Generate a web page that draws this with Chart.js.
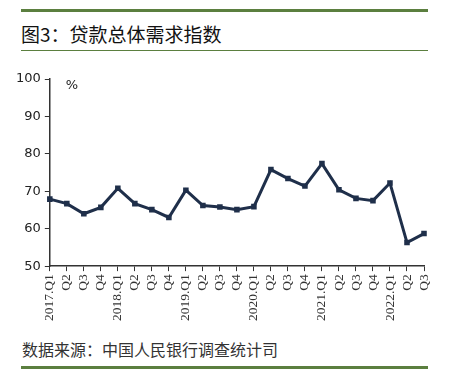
<!DOCTYPE html>
<html>
<head>
  <meta charset="utf-8" />
  <title>贷款总体需求指数</title>
  <script src="https://cdn.jsdelivr.net/npm/chart.js"></script>
  <style>
    html, body { margin: 0; padding: 0; background: #fff; }
    body { width: 449px; height: 372px; position: relative; overflow: hidden; font-family: "Noto Sans CJK SC", sans-serif; }
    .rule-top { position: absolute; left: 21px; top: 9px; width: 407px; height: 3px; background: #5b7f3f; }
    .title { position: absolute; left: 21px; top: 21px; font-size: 19px; color: #111; line-height: 26px; }
    .rule-thin { position: absolute; left: 21px; top: 50px; width: 407px; height: 1px; background: #5b7f3f; }
    .source { position: absolute; left: 22px; top: 338px; font-size: 16px; color: #333; line-height: 22px; }
    .rule-bottom { position: absolute; left: 21px; top: 366px; width: 407px; height: 3px; background: #5b7f3f; }
    #wrap { position: absolute; left: 0; top: 60px; width: 449px; height: 264px; }
  </style>
</head>
<body>
  <div class="rule-top"></div>
  <div class="title">图3：贷款总体需求指数</div>
  <div class="rule-thin"></div>
  <div id="wrap"><canvas id="chart"></canvas></div>
  <div class="source">数据来源：中国人民银行调查统计司</div>
  <div class="rule-bottom"></div>
<script>
const quarters = [
  '2017.Q1', 'Q2', 'Q3', 'Q4',
  '2018.Q1', 'Q2', 'Q3', 'Q4',
  '2019.Q1', 'Q2', 'Q3', 'Q4',
  '2020.Q1', 'Q2', 'Q3', 'Q4',
  '2021.Q1', 'Q2', 'Q3', 'Q4',
  '2022.Q1', 'Q2', 'Q3'
];
const demandIndex = [
  67.9, 66.7, 64.0, 65.7,
  70.8, 66.7, 65.1, 63.0,
  70.3, 66.2, 65.8, 65.1,
  65.9, 75.8, 73.4, 71.4,
  77.4, 70.4, 68.1, 67.5,
  72.2, 56.3, 58.7
];
const yTicks = [50, 60, 70, 80, 90, 100];

const unitLabel = {
  id: 'unitLabel',
  afterDraw(chart) {
    const ctx = chart.ctx;
    const area = chart.chartArea;
    ctx.save();
    ctx.font = '13px "DejaVu Sans", sans-serif';
    ctx.fillStyle = '#222';
    ctx.textBaseline = 'middle';
    ctx.fillText('%', area.left + 16, area.top + 7);
    ctx.restore();
  }
};

new Chart(document.getElementById('chart'), {
  type: 'line',
  data: {
    labels: quarters,
    datasets: [{
      data: demandIndex,
      borderColor: '#1f2f4a',
      backgroundColor: '#1f2f4a',
      borderWidth: 3,
      pointStyle: 'rect',
      pointRadius: 1.8,
      tension: 0
    }]
  },
  options: {
    responsive: true,
    maintainAspectRatio: false,
    animation: false,
    layout: { padding: { left: 12, right: 25, top: 19, bottom: 0 } },
    plugins: { legend: { display: false }, tooltip: { enabled: false } },
    scales: {
      x: {
        offset: false,
        grid: { display: true, drawOnChartArea: false, drawTicks: true, tickLength: 5, tickColor: '#333', color: '#333' },
        border: { display: true, color: '#333', width: 1.5 },
        ticks: {
          autoSkip: false, maxRotation: 90, minRotation: 90,
          color: '#333', padding: 3,
          font: { family: '"Liberation Serif", "DejaVu Serif", serif', size: 13.5 }
        }
      },
      y: {
        min: 50, max: 100,
        afterBuildTicks(axis) { axis.ticks = yTicks.map(v => ({ value: v })); },
        grid: { display: true, drawOnChartArea: false, drawTicks: true, tickLength: 5, tickColor: '#333', color: '#333' },
        border: { display: true, color: '#333', width: 1.5 },
        ticks: {
          color: '#222', padding: 4,
          font: { family: '"DejaVu Sans", sans-serif', size: 13 }
        }
      }
    }
  },
  plugins: [unitLabel]
});
</script>
</body>
</html>
